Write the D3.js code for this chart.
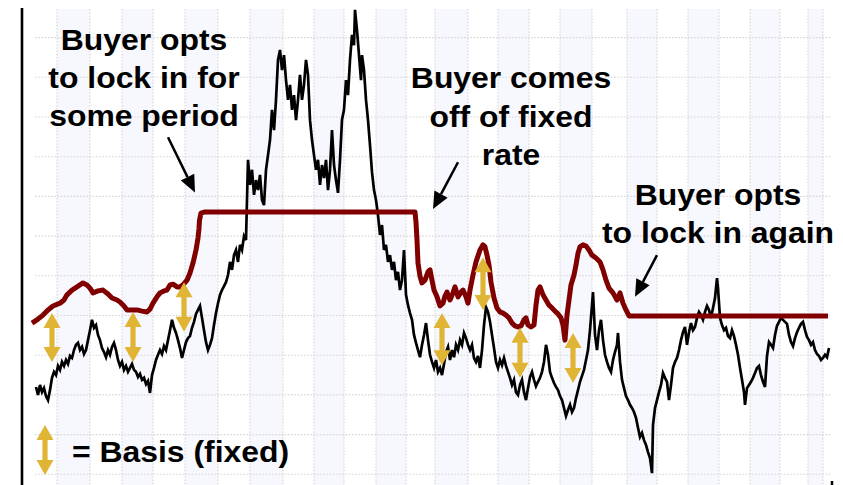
<!DOCTYPE html>
<html><head><meta charset="utf-8">
<script src="https://cdn.jsdelivr.net/npm/d3@7"></script>
<style>html,body{margin:0;padding:0;background:#fff;} svg{display:block;}</style>
</head><body><svg id="c" width="843" height="485"></svg>
<script>
// ---------- DATA ----------
// vertical gridline positions (trading-day index)
const gridDays = [22,55,87,118,150,183,215,248,279,309,341,371,400,433,463,494,525,557,592,622,653,684,715,745,773,788];
// horizontal gridline values (price units)
const gridValues = [0,10,20,30,40,50,60,70,80,90,100,110];

// market (floating) price – black line
const cashDays = [1,3,5,7,9,11,13,15,17,19,21,23,25,27,29,31,33,35,37,39,41,43,45,47,49,51,53,55,57,59,61,63,65,67,69,71,73,75,77,79,81,83,85,87,89,91,93,95,97,99,101,103,105,107,109,111,113,115,117,119,121,123,125,127,129,131,133,135,137,139,141,143,145,147,149,151,153,155,157,159,161,163,165,167,169,171,173,175,177,179,181,183,185,187,189,191,193,195,197,199,201,203,205,207,209,211,212,213,215,217,219,221,223,225,227,229,231,233,235,237,239,241,243,245,247,249,251,253,255,257,259,261,263,265,267,269,271,273,275,277,279,281,283,285,287,289,291,293,295,297,299,301,303,305,307,309,311,313,315,317,319,320,322,324,326,327,329,331,333,335,337,339,341,343,345,347,349,351,353,355,357,359,361,363,365,367,369,371,373,375,377,379,381,383,385,387,389,391,393,395,397,399,401,403,405,407,409,411,413,415,417,419,421,423,425,427,429,431,433,435,437,439,441,443,445,447,449,451,453,455,457,459,461,463,465,467,469,471,473,475,477,479,481,483,485,487,489,491,493,495,497,499,501,503,505,507,509,511,513,515,517,519,521,523,525,527,529,531,533,535,537,539,541,543,545,547,549,551,553,555,557,558,560,562,564,566,568,570,572,574,576,578,580,582,583,585,587,589,591,593,595,597,599,601,603,605,607,609,611,613,615,617,618,620,622,624,626,628,630,632,634,636,638,640,642,644,646,648,650,652,654,656,658,660,662,664,666,668,670,672,674,676,678,680,682,683,685,687,689,691,693,695,697,699,701,703,705,707,709,710,712,714,716,718,720,722,724,726,728,730,732,734,736,738,740,742,744,746,748,750,752,754,756,758,760,762,764,766,768,770,772,774,776,778,780,782,784,786,788,790,792,794];
const cashPrice = [22.0,20.0,22.5,20.7,21.7,19.7,18.7,21.2,24.3,25.8,25.0,27.3,26.3,28.3,27.3,28.8,27.8,29.8,29.3,31.3,32.6,33.1,31.3,32.1,30.3,31.3,33.8,36.3,38.9,36.9,37.6,35.1,33.8,31.8,30.8,29.5,31.3,30.1,32.1,33.1,31.3,28.8,27.3,28.3,26.3,27.3,25.8,26.8,27.8,26.3,25.8,24.5,25.3,23.8,24.3,22.7,23.5,20.5,25.0,26.8,28.8,30.1,31.3,30.3,32.3,31.3,33.8,36.3,38.9,36.9,35.6,33.8,31.8,29.3,31.3,33.3,34.3,34.8,36.9,38.4,40.4,41.4,42.4,39.4,36.3,33.3,31.3,32.6,34.3,37.6,40.6,43.1,45.2,46.4,47.4,48.4,50.2,53.5,51.5,55.2,56.5,53.5,57.8,56.5,60.0,59.0,69.1,79.2,72.9,76.7,70.4,74.1,71.6,75.4,69.1,67.8,76.7,80.4,84.2,91.8,86.7,94.3,104.4,106.9,101.8,105.6,99.3,94.3,98.1,91.8,95.5,89.2,94.3,100.6,94.3,98.1,104.4,100.6,89.2,84.2,80.4,76.7,79.2,72.9,77.9,74.6,79.2,71.6,76.7,86.7,77.9,74.1,70.9,79.2,89.3,91.8,99.3,95.5,104.4,110.7,108.1,117.0,111.9,105.6,99.3,105.6,101.8,94.3,89.3,82.9,76.1,71.6,69.1,65.3,60.3,62.8,56.5,57.8,53.5,55.2,51.5,53.5,48.9,51.0,46.4,48.9,56.5,45.2,42.6,40.6,38.9,35.1,33.1,31.3,29.5,32.6,35.1,38.1,33.8,30.1,28.3,26.8,28.8,25.8,26.8,25.0,27.8,30.8,32.1,28.8,31.3,29.5,32.6,31.3,33.8,32.6,35.6,34.3,32.6,31.3,32.6,29.3,28.3,29.8,26.8,31.3,37.6,42.1,40.9,38.4,35.1,31.8,28.3,26.8,28.8,27.5,29.3,27.3,25.8,24.3,22.5,23.8,20.7,20.0,22.5,23.8,20.7,18.7,21.7,24.5,25.8,23.8,22.2,23.3,24.3,25.8,28.3,32.6,30.1,25.8,24.3,23.0,22.0,21.2,19.7,18.7,16.7,14.7,16.2,17.5,15.7,16.7,19.2,21.2,23.3,24.8,26.3,28.8,31.3,36.3,42.6,45.9,35.1,31.3,36.3,38.9,33.8,30.1,28.3,26.8,25.8,28.8,30.8,32.6,35.6,28.3,23.8,21.7,19.7,18.7,17.5,16.7,15.7,14.2,11.7,9.4,10.4,8.6,7.4,5.6,4.1,0.3,12.4,16.7,18.7,20.7,22.5,25.5,24.3,23.3,18.7,22.5,26.8,28.3,29.3,31.3,33.8,35.8,37.1,32.6,35.8,38.1,36.3,37.1,39.4,40.9,40.1,38.9,40.9,42.4,41.4,39.4,41.9,44.4,49.4,46.9,39.4,37.6,36.3,36.9,34.8,34.3,36.3,34.8,32.6,30.1,26.8,23.8,20.7,17.5,21.7,22.5,23.3,24.3,25.5,26.8,27.3,25.0,23.3,22.0,29.8,33.3,32.6,31.8,35.1,37.4,38.4,39.4,38.9,38.4,37.9,35.1,33.3,32.3,34.3,35.8,36.9,37.9,38.4,36.3,34.6,33.8,32.6,33.3,31.3,30.3,29.8,28.8,29.3,30.1,29.5,31.8];

// buyer's price (market + basis, or locked) – red line
const lockDays = [-3,3,8,13,18,25,29,32,37,42,48,52,55,58,63,68,73,77,82,85,89,92,97,102,107,112,115,118,122,125,129,132,135,138,142,145,148,152,155,158,161,163,164,164.5,166,170,380,381,382,383,385,387,390,393,395,397,399,402,405,408,410,412,415,418,420,423,426,428,431,433,435,438,441,445,448,450,452,454,456,459,462,465,468,471,474,477,480,483,486,489,491,493,496,499,501,503,505,508,511,514,517,520,523,526,528,530,532,534,536,539,541,543,545,548,551,554,557,561,565,568,571,574,578,582,585,588,591,594,597,793];
const lockPrice = [38.1,39.1,40.1,41.4,42.4,43.1,43.9,45.2,46.4,47.2,48.2,47.7,46.9,45.7,46.2,46.4,45.4,44.4,43.9,43.4,42.4,41.4,41.4,41.4,41.1,40.9,41.6,43.1,44.7,45.7,46.2,46.4,47.7,47.9,47.2,47.2,47.7,48.9,50.7,53.2,56.5,59.5,62.0,64.0,65.8,66.1,66.1,63.5,59.0,53.2,49.9,48.2,48.9,51.0,51.5,48.9,46.4,44.7,42.4,43.1,44.9,45.9,43.9,45.7,47.2,44.7,45.9,46.4,44.7,43.1,46.4,50.2,53.5,56.5,57.8,57.3,55.2,52.7,48.4,44.4,41.9,40.9,40.6,40.1,39.4,38.1,37.4,37.1,37.4,38.9,39.4,37.6,37.1,37.6,42.6,46.4,47.2,45.2,43.9,42.6,41.9,41.1,40.4,39.4,37.6,33.8,40.1,43.9,47.7,50.2,52.7,55.7,57.3,57.8,57.5,56.5,55.2,54.5,53.5,51.5,48.9,46.9,45.7,43.9,45.7,43.1,41.4,39.9,39.9,39.9];

// fixed basis arrows
const basisDays = [17,98,149,407,448,485,538];
const basisTop = [40.6,40.9,48.4,40.6,54.7,36.9,35.6];
const basisBottom = [28.3,28.3,35.9,27.5,41.4,24.3,23.0];

// annotations
const notes = [
  {lines:["Buyer opts","to lock in for","some period"], day:109, base:[106.9,97.3,87.7], from:[133,84.9], to:[160,71.0]},
  {lines:["Buyer comes","off of fixed","rate"], day:476, base:[97.3,87.5,77.9], from:[423,78.6], to:[398,66.8]},
  {lines:["Buyer opts","to lock in again"], day:683, base:[67.8,58.3], from:[622,55.2], to:[600,44.7]}
];
const legendLabel = "= Basis (fixed)";

// ---------- CHART ----------
const W = 843, H = 485;
const svg = d3.select("#c");
const x = d3.scaleLinear().domain([0, 795]).range([35, 830]);
const y = d3.scaleLinear().domain([0, 110]).range([474.3, 37.6]);
const plotTop = 9, plotBottom = 485;
const FONT = "'Liberation Sans', Arial, Helvetica, sans-serif";

svg.append("rect").attr("width", W).attr("height", H).attr("fill", "#fff");

// shaded columns
const cols = [];
for (let i = 0; i + 1 < gridDays.length; i += 2) cols.push([gridDays[i], gridDays[i+1]]);
svg.append("g").selectAll("rect").data(cols).join("rect")
  .attr("x", d => x(d[0])).attr("width", d => x(d[1]) - x(d[0]))
  .attr("y", plotTop).attr("height", plotBottom - plotTop)
  .attr("fill", "#f7f7fe");

// gridlines
const grid = svg.append("g").attr("stroke", "#d6d6d6").attr("stroke-width", 1.1).attr("stroke-dasharray", "1.6,1.6");
grid.selectAll("line.h").data(gridValues).join("line").attr("class","h")
  .attr("x1", x(0)).attr("x2", x(795)).attr("y1", d => y(d)).attr("y2", d => y(d));
grid.selectAll("line.v").data(gridDays).join("line").attr("class","v")
  .attr("x1", d => x(d)).attr("x2", d => x(d)).attr("y1", plotTop).attr("y2", plotBottom);

// black market line
const cash = cashDays.map((d, i) => [d, cashPrice[i]]);
svg.append("path").datum(cash)
  .attr("d", d3.line().x(d => x(d[0])).y(d => y(d[1])))
  .attr("fill", "none").attr("stroke", "#000").attr("stroke-width", 2.7).attr("stroke-linejoin", "miter");

// red buyer line
const lock = lockDays.map((d, i) => [d, lockPrice[i]]);
svg.append("path").datum(lock)
  .attr("d", d3.line().x(d => x(d[0])).y(d => y(d[1])))
  .attr("fill", "none").attr("stroke", "#800000").attr("stroke-width", 5)
  .attr("stroke-linejoin", "round").attr("stroke-linecap", "butt");

// yellow double arrows
function dblArrow(cx, y1, y2) {
  const h = 15, hw = 8.5, sw = 2.6;
  return `M${cx},${y1}L${cx+hw},${y1+h}L${cx+sw},${y1+h}L${cx+sw},${y2-h}L${cx+hw},${y2-h}L${cx},${y2}` +
         `L${cx-hw},${y2-h}L${cx-sw},${y2-h}L${cx-sw},${y1+h}L${cx-hw},${y1+h}Z`;
}
const basis = basisDays.map((d, i) => ({d, t: basisTop[i], b: basisBottom[i]}));
svg.append("g").selectAll("path").data(basis).join("path")
  .attr("d", a => dblArrow(x(a.d), y(a.t), y(a.b)))
  .attr("fill", "#e0b535");

// legend
svg.append("path").attr("d", dblArrow(x(10), y(12.4), y(-0.2))).attr("fill", "#e0b535");
svg.append("g").attr("transform", `translate(${x(37)},${y(3.1)}) scale(1.1,1)`)
  .append("text").text(legendLabel)
  .attr("font-family", FONT).attr("font-weight", "bold").attr("font-size", 29).attr("fill", "#000");

// annotations
notes.forEach(n => {
  n.lines.forEach((t, i) => {
    svg.append("g").attr("transform", `translate(${x(n.day)},${y(n.base[i])}) scale(1.1,1)`)
      .append("text").text(t).attr("text-anchor", "middle")
      .attr("font-family", FONT).attr("font-weight", "bold").attr("font-size", 29).attr("fill", "#000");
  });
  const x1 = x(n.from[0]), y1 = y(n.from[1]), x2 = x(n.to[0]), y2 = y(n.to[1]);
  const L = Math.hypot(x2 - x1, y2 - y1), ux = (x2 - x1) / L, uy = (y2 - y1) / L;
  const hl = 17, hw = 7.5;
  const bx = x2 - ux * hl, by = y2 - uy * hl;
  svg.append("line").attr("x1", x1).attr("y1", y1).attr("x2", bx).attr("y2", by)
    .attr("stroke", "#000").attr("stroke-width", 2.5);
  svg.append("path")
    .attr("d", `M${x2},${y2}L${bx - uy*hw},${by + ux*hw}L${bx + uy*hw},${by - ux*hw}Z`)
    .attr("fill", "#000");
});

// left axis line and bottom tick
svg.append("line").attr("x1", 22).attr("x2", 22).attr("y1", 8).attr("y2", H)
  .attr("stroke", "#000").attr("stroke-width", 2.6);
svg.append("line").attr("x1", x(797)).attr("x2", x(797)).attr("y1", 481).attr("y2", H)
  .attr("stroke", "#000").attr("stroke-width", 2.5);
</script>
</body></html>
